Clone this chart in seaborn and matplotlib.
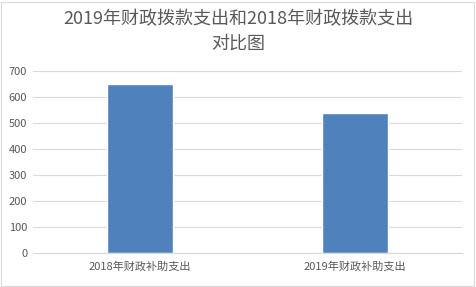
import matplotlib
matplotlib.use("Agg")
import matplotlib.pyplot as plt
import seaborn as sns
import pandas as pd
from matplotlib.patches import Rectangle

categories = ["2018年财政补助支出", "2019年财政补助支出"]
values = [650, 538]
title = "2019年财政拨款支出和2018年财政拨款支出\n对比图"

sns.set_theme(style="white")
plt.rcParams['font.family'] = ['Noto Sans CJK SC', 'DejaVu Sans']

df = pd.DataFrame({"cat": categories, "val": values})

fig = plt.figure(figsize=(4.76, 2.87), dpi=100)
ax = fig.add_axes([0.069, 0.118, 0.902, 0.635])
sns.barplot(data=df, x="cat", y="val", color="#4F81BD", saturation=1, width=0.31, ax=ax)

ax.set_ylim(0, 700)
ax.set_yticks(range(0, 701, 100))
ax.yaxis.grid(True, color="#D9D9D9", linewidth=0.8)
ax.set_axisbelow(True)
for s in ["top", "right", "left"]:
    ax.spines[s].set_visible(False)
ax.spines["bottom"].set_color("#D9D9D9")
ax.spines["bottom"].set_linewidth(0.8)
ax.set_xlabel("")
ax.set_ylabel("")
ax.tick_params(axis="both", length=0, labelsize=8, colors="#595959", pad=4)
ax.tick_params(axis="x", pad=6)

fig.text(0.5, 0.965, title, ha="center", va="top", fontsize=13, color="#595959", linespacing=1.45)

fig.patches.append(Rectangle((0.002, 0.004), 0.994, 0.99, transform=fig.transFigure,
                             fill=False, edgecolor="#D9D9D9", linewidth=0.8))

fig.savefig("out.png", dpi=100)
